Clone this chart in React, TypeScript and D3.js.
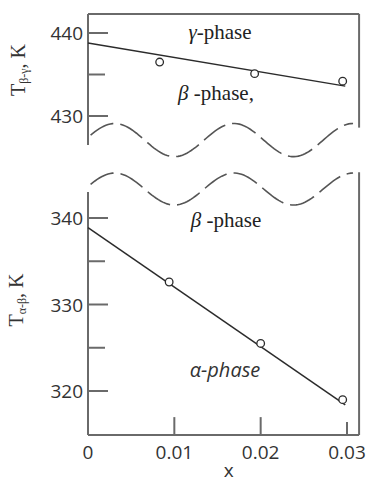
import React from 'react';
import * as d3 from 'd3';

// measured points (x, T)
const xTop = [0.0083, 0.0193, 0.0295];
const tTop = [436.5, 435.1, 434.2];
const xBot = [0.0094, 0.02, 0.0295];
const tBot = [332.6, 325.5, 319.0];

// fitted lines: [x0, T0], [x1, T1]
const fitTopX = [0, 0.0298];
const fitTopT = [438.8, 433.6];
const fitBotX = [0, 0.0298];
const fitBotT = [338.9, 318.4];

const xTicks = [0, 0.01, 0.02, 0.03];
const xTickLabels = ['0', '0.01', '0.02', '0.03'];
const topMajor = [440, 430];
const topMinor = [435];
const botMajor = [340, 330, 320];
const botMinor = [335, 325];

const W = 371;
const H = 482;

const x = d3.scaleLinear().domain([0, 0.03]).range([88, 347]);
const yTop = d3.scaleLinear().domain([430, 440]).range([116, 33]);
const yBot = d3.scaleLinear().domain([320, 340]).range([391, 218]);

const xEnd = 0.0314;

// axis-break wave (decoration), sampled in data units
const wave = (scaleY: d3.ScaleLinear<number, number>, center: number, amp: number) => {
  const pts: [number, number][] = [];
  for (let i = 0; i <= 120; i++) {
    const xv = 0.0003 + (i / 120) * (0.0307 - 0.0003);
    pts.push([xv, center + amp * Math.cos(((xv - 0.0031) / 0.0138) * 2 * Math.PI)]);
  }
  return d3.line<[number, number]>().x(d => x(d[0])).y(d => scaleY(d[1]))(pts) || '';
};

const lineGen = (xs: number[], ts: number[], sy: d3.ScaleLinear<number, number>) =>
  d3.line<number>().x((_, i) => x(xs[i])).y((d) => sy(d))(ts) || '';

const serif = '"Liberation Serif", "DejaVu Serif", serif';
const sans = '"Open Sans", Lato, sans-serif';
const frame = '#6a6a6a';
const ink = '#2b2b2b';

export default function App() {
  const topTop = yTop(442.3);
  const topBreakL = yTop(426.5);
  const topBreakR = yTop(428.6);
  const botBreakL = yBot(343.0);
  const botBreakR = yBot(345.3);
  const base = yBot(314.9);

  return (
    <svg width={W} height={H} style={{ position: 'absolute', left: 0, top: 0, background: '#fff' }}>
      {/* top panel frame */}
      <line x1={x(0)} x2={x(0)} y1={topTop} y2={topBreakL} stroke={frame} strokeWidth={2} />
      <line x1={x(0)} x2={x(xEnd)} y1={topTop} y2={topTop} stroke={frame} strokeWidth={2} />
      <line x1={x(xEnd)} x2={x(xEnd)} y1={topTop} y2={topBreakR} stroke={frame} strokeWidth={2} />
      <path d={wave(yTop, 427.1, 2.0)} fill="none" stroke="#555" strokeWidth={1.6} strokeDasharray="26 7" />

      {/* bottom panel frame */}
      <path d={wave(yBot, 343.35, 1.85)} fill="none" stroke="#555" strokeWidth={1.6} strokeDasharray="26 7" />
      <line x1={x(0)} x2={x(0)} y1={botBreakL} y2={base} stroke={frame} strokeWidth={2} />
      <line x1={x(0)} x2={x(xEnd)} y1={base} y2={base} stroke={frame} strokeWidth={2} />
      <line x1={x(xEnd)} x2={x(xEnd)} y1={botBreakR} y2={base} stroke={frame} strokeWidth={2} />

      {/* y ticks */}
      {topMajor.map(t => (
        <g key={'tm' + t}>
          <line x1={x(0)} x2={x(0) + 20} y1={yTop(t)} y2={yTop(t)} stroke={frame} strokeWidth={2} />
          <text x={x(0) - 5} y={yTop(t) + 7} textAnchor="end" fontFamily={sans} fontSize={19} fill="#333">{t}</text>
        </g>
      ))}
      {topMinor.map(t => (
        <line key={'tn' + t} x1={x(0)} x2={x(0) + 17} y1={yTop(t)} y2={yTop(t)} stroke={frame} strokeWidth={2} />
      ))}
      {botMajor.map(t => (
        <g key={'bm' + t}>
          <line x1={x(0)} x2={x(0) + 20} y1={yBot(t)} y2={yBot(t)} stroke={frame} strokeWidth={2} />
          <text x={x(0) - 5} y={yBot(t) + 7} textAnchor="end" fontFamily={sans} fontSize={19} fill="#333">{t}</text>
        </g>
      ))}
      {botMinor.map(t => (
        <line key={'bn' + t} x1={x(0)} x2={x(0) + 17} y1={yBot(t)} y2={yBot(t)} stroke={frame} strokeWidth={2} />
      ))}

      {/* x ticks */}
      {xTicks.map((v, i) => (
        <g key={'xt' + i}>
          {i > 0 && (
            <line x1={x(v)} x2={x(v)} y1={base} y2={base - (i === 3 ? 13 : 18)} stroke={frame} strokeWidth={2} />
          )}
          <text x={x(v)} y={base + 24} textAnchor="middle" fontFamily={sans} fontSize={19} fill="#333">
            {xTickLabels[i]}
          </text>
        </g>
      ))}
      <text x={x(0.0163)} y={H - 5} textAnchor="middle" fontFamily={sans} fontSize={19} fill="#333">x</text>

      {/* y titles */}
      <text transform={`translate(25,70) rotate(-90)`} textAnchor="middle" fontFamily={serif} fontSize={20} fill="#333">
        T<tspan fontSize={12} dy={3}>β-γ</tspan><tspan dy={-3}>, K</tspan>
      </text>
      <text transform={`translate(23,300) rotate(-90)`} textAnchor="middle" fontFamily={serif} fontSize={20} fill="#333">
        T<tspan fontSize={12} dy={3}>α-β</tspan><tspan dy={-3}>, K</tspan>
      </text>

      {/* fitted lines */}
      <path d={lineGen(fitTopX, fitTopT, yTop)} fill="none" stroke={ink} strokeWidth={1.5} />
      <path d={lineGen(fitBotX, fitBotT, yBot)} fill="none" stroke={ink} strokeWidth={1.5} />

      {/* data points */}
      {xTop.map((v, i) => (
        <circle key={'pt' + i} cx={x(v)} cy={yTop(tTop[i])} r={3.8} fill="#fff" stroke={ink} strokeWidth={1.3} />
      ))}
      {xBot.map((v, i) => (
        <circle key={'pb' + i} cx={x(v)} cy={yBot(tBot[i])} r={3.8} fill="#fff" stroke={ink} strokeWidth={1.3} />
      ))}

      {/* phase labels */}
      <text x={220} y={yTop(439.3)} textAnchor="middle" fontFamily={serif} fontSize={21} fill="#222">
        <tspan fontStyle="italic">γ</tspan>-phase
      </text>
      <text x={216} y={yTop(431.9)} textAnchor="middle" fontFamily={serif} fontSize={21} fill="#222">
        <tspan fontStyle="italic">β</tspan> -phase,
      </text>
      <text x={226} y={yBot(339.0)} textAnchor="middle" fontFamily={serif} fontSize={21} fill="#222">
        <tspan fontStyle="italic">β</tspan> -phase
      </text>
      <text x={225} y={yBot(321.6)} textAnchor="middle" fontFamily={sans} fontStyle="italic" fontSize={20} fill="#333">
        α-phase
      </text>
    </svg>
  );
}
